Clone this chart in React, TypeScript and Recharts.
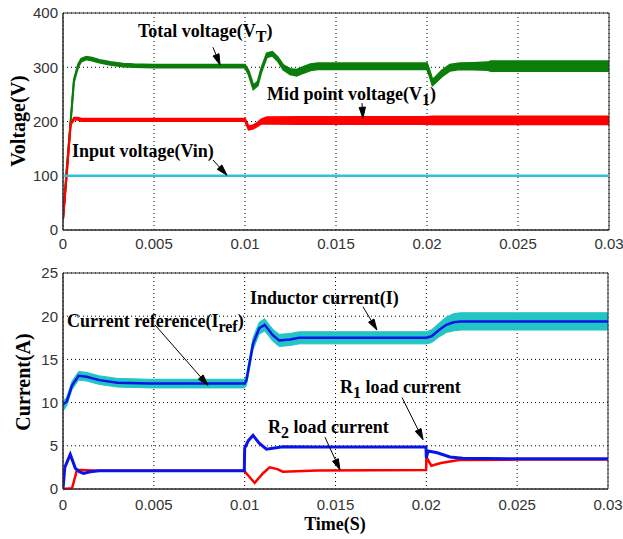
import React from 'react';
import {
  ComposedChart,
  Line,
  Area,
  XAxis,
  YAxis,
  CartesianGrid,
  ReferenceLine,
  ReferenceArea,
} from 'recharts';

// ---------- Shared axis data ----------
const timeTicks = [0, 0.005, 0.01, 0.015, 0.02, 0.025, 0.03];
const timeTickLabels = ['0', '0.005', '0.01', '0.015', '0.02', '0.025', '0.03'];
const voltageTicks = [0, 100, 200, 300, 400];
const currentTicks = [0, 5, 10, 15, 20, 25];

// ---------- Top plot: voltages ----------
// Total voltage V_T (green): centre and half-width of the ripple band
const tVT = [0, 0.0002, 0.00042, 0.0006, 0.00083, 0.001, 0.00128, 0.0016, 0.002, 0.0026, 0.0033, 0.0039, 0.005, 0.007, 0.01, 0.0102, 0.01046, 0.0107, 0.0109, 0.0112, 0.0115, 0.0118, 0.0121, 0.01248, 0.01284, 0.0132, 0.0136, 0.014, 0.015, 0.017, 0.02, 0.02015, 0.0203, 0.0205, 0.0208, 0.02126, 0.0218, 0.0225, 0.02335, 0.0235, 0.025, 0.0275, 0.03];
const vtMid = [20, 110, 200, 275, 303, 313, 317, 315, 311, 307, 304, 303, 302, 302, 302, 290, 263, 270, 295, 322, 325, 315, 300, 292, 290, 295, 300, 302, 302, 302, 302, 288, 272, 278, 288, 299, 302, 302, 302, 302, 302, 302, 302];
const vtHalf = [1, 1, 1, 2, 2.5, 2.5, 2.5, 2.5, 2.5, 2.5, 2.5, 2.5, 2.5, 2.5, 2.5, 3.5, 3.5, 3.5, 3.5, 3.5, 3.5, 3.5, 4, 5, 5.5, 5.5, 5.5, 5.5, 5.5, 5.5, 5.5, 5, 5, 5, 5.5, 5.5, 5.5, 6, 7, 9, 9, 9, 9];

// Mid point voltage V_1 (red)
const tV1 = [0, 0.0002, 0.00042, 0.0006, 0.00083, 0.001, 0.002, 0.005, 0.01, 0.0102, 0.01046, 0.0107, 0.0109, 0.0112, 0.013, 0.015, 0.02, 0.0203, 0.025, 0.03];
const v1Mid = [20, 100, 195, 205, 205, 203, 203, 203, 203, 188, 190, 195, 200, 202, 202, 202, 202, 202, 202, 202];
const v1Half = [0.5, 0.5, 1, 2, 2, 2, 2, 2, 2, 3, 3, 3, 4, 6, 6.5, 6.5, 6.5, 7, 7, 7];

// Input voltage Vin (cyan)
const tVin = [0, 0.03];
const vin = [100, 100];

// ---------- Bottom plot: currents ----------
// Current reference I_ref (blue) and inductor current I (cyan band)
const tI = [0, 0.0002, 0.0005, 0.00086, 0.0013, 0.002, 0.003, 0.0048, 0.007, 0.01, 0.0101, 0.01046, 0.0108, 0.0111, 0.01155, 0.0119, 0.0125, 0.013, 0.015, 0.02, 0.0203, 0.0207, 0.0211, 0.0215, 0.0219, 0.025, 0.03];
const iref = [9.8, 10.1, 12.0, 13.1, 13.0, 12.6, 12.3, 12.2, 12.2, 12.2, 12.6, 16.8, 18.6, 19.0, 17.8, 17.2, 17.3, 17.5, 17.5, 17.5, 17.7, 18.4, 19.0, 19.3, 19.4, 19.4, 19.4];
const indMid = [9.6, 10.1, 12.0, 13.1, 13.0, 12.6, 12.3, 12.2, 12.2, 12.2, 12.6, 16.8, 18.6, 19.0, 17.8, 17.2, 17.3, 17.5, 17.5, 17.5, 17.7, 18.4, 19.0, 19.3, 19.4, 19.4, 19.4];
const indHalf = [0.6, 0.5, 0.5, 0.5, 0.5, 0.5, 0.5, 0.5, 0.5, 0.5, 0.6, 0.7, 0.7, 0.7, 0.7, 0.7, 0.7, 0.7, 0.7, 0.7, 0.75, 0.8, 0.9, 1.0, 1.0, 1.0, 1.0];

// R1 load current (blue)
const tR1 = [0, 0.0001, 0.0004, 0.00068, 0.0009, 0.00113, 0.0015, 0.002, 0.005, 0.00998, 0.01, 0.0102, 0.01046, 0.0108, 0.0112, 0.0121, 0.014, 0.01998, 0.02, 0.0201, 0.0206, 0.0213, 0.022, 0.025, 0.03];
const r1 = [0, 2.5, 4.0, 2.4, 2.0, 1.8, 2.0, 2.1, 2.1, 2.1, 4.7, 5.6, 6.2, 5.3, 4.6, 4.9, 4.85, 4.85, 3.6, 4.4, 4.2, 3.7, 3.55, 3.5, 3.5];

// R2 load current (red)
const tR2 = [0, 0.0005, 0.00077, 0.001, 0.002, 0.005, 0.00998, 0.0101, 0.01055, 0.011, 0.01137, 0.0118, 0.0121, 0.014, 0.01999, 0.02, 0.02028, 0.0208, 0.0218, 0.025, 0.03];
const r2 = [0, 0.1, 2.2, 2.2, 2.1, 2.1, 2.1, 1.8, 0.7, 1.8, 2.5, 2.3, 2.0, 2.15, 2.2, 3.7, 2.7, 3.0, 3.35, 3.4, 3.4];

// ---------- Annotation arrows (data coordinates: [t1, y1, t2, y2]) ----------
const voltageArrows = [
  [0.00824, 337, 0.00863, 304],
  [0.01643, 234, 0.01648, 206],
  [0.00824, 129, 0.00901, 101],
];
const currentArrows = [
  [0.01651, 21.1, 0.01728, 18.4],
  [0.00506, 19.0, 0.00798, 12.0],
  [0.01442, 6.0, 0.01525, 2.2],
  [0.01866, 10.6, 0.01982, 5.7],
];

// ---------- helpers ----------
const toRows = (t: number[], v: number[]) => t.map((x, i) => ({ t: x, v: v[i] }));
const toBand = (t: number[], m: number[], h: number[]) =>
  t.map((x, i) => ({ t: x, r: [m[i] - h[i], m[i] + h[i]] }));

const vtBand = toBand(tVT, vtMid, vtHalf);
const v1Band = toBand(tV1, v1Mid, v1Half);
const vinRows = toRows(tVin, vin);
const indBand = toBand(tI, indMid, indHalf);
const irefRows = toRows(tI, iref);
const r1Rows = toRows(tR1, r1);
const r2Rows = toRows(tR2, r2);

const GREEN = '#0a7d0a';
const RED = '#ff0000';
const VIN_CYAN = '#2fc2d8';
const BAND_CYAN = '#22c4c4';
const BLUE = '#0a14e6';
const FRAME = '#2a2a2a';

const tickFont = { fontFamily: '"Liberation Sans", Arial, sans-serif', fontSize: 15, fill: '#333' };
const serif = '"Liberation Serif", "Times New Roman", serif';

const ArrowShape = (p: any) => {
  const { x1, y1, x2, y2 } = p;
  const dx = x2 - x1;
  const dy = y2 - y1;
  const len = Math.hypot(dx, dy) || 1;
  const ux = dx / len;
  const uy = dy / len;
  const hl = 11;
  const hw = 3.2;
  const bx = x2 - ux * hl;
  const by = y2 - uy * hl;
  const pts = `${x2},${y2} ${bx - uy * hw},${by + ux * hw} ${bx + uy * hw},${by - ux * hw}`;
  return (
    <g>
      <line x1={x1} y1={y1} x2={bx} y2={by} stroke="#000" strokeWidth={1} />
      <polygon points={pts} fill="#000" stroke="#000" strokeWidth={1} />
    </g>
  );
};

const xTickFmt = (v: number) => {
  const i = timeTicks.findIndex((x) => Math.abs(x - v) < 1e-9);
  return i >= 0 ? timeTickLabels[i] : String(v);
};

export default function App() {
  return (
    <div style={{ position: 'absolute', left: 0, top: 0, width: 623, height: 539, background: '#fff', overflow: 'hidden' }}>
      {/* Top: voltages */}
      <div style={{ position: 'absolute', left: 0, top: 0 }}>
        <ComposedChart width={623} height={262} margin={{ top: 13, right: 14, left: 0, bottom: 0 }}>
          <CartesianGrid stroke="#000" strokeDasharray="1 3" />
          <XAxis
            dataKey="t"
            type="number"
            domain={[0, 0.03]}
            ticks={timeTicks}
            tickFormatter={xTickFmt}
            allowDataOverflow
            height={32}
            tickLine={false}
            tickSize={6}
            tickMargin={2}
            axisLine={{ stroke: FRAME }}
            tick={tickFont}
            interval={0}
          />
          <YAxis
            type="number"
            domain={[0, 400]}
            ticks={voltageTicks}
            width={63}
            tickLine={false}
            tickSize={3}
            tickMargin={2}
            axisLine={{ stroke: FRAME }}
            tick={tickFont}
            interval={0}
          />
          <Area data={vtBand} dataKey="r" type="linear" stroke={GREEN} strokeWidth={2} fill={GREEN} fillOpacity={1} isAnimationActive={false} dot={false} activeDot={false} />
          <Area data={v1Band} dataKey="r" type="linear" stroke={RED} strokeWidth={2} fill={RED} fillOpacity={1} isAnimationActive={false} dot={false} activeDot={false} />
          <Line data={vinRows} dataKey="v" type="linear" stroke={VIN_CYAN} strokeWidth={2.5} dot={false} activeDot={false} isAnimationActive={false} />
          {voltageArrows.map((a, i) => (
            <ReferenceLine key={i} segment={[{ x: a[0], y: a[1] }, { x: a[2], y: a[3] }]} shape={ArrowShape} ifOverflow="visible" />
          ))}
          <ReferenceArea x1={0} x2={0.03} y1={0} y2={400} fill="none" fillOpacity={0} stroke={FRAME} strokeWidth={1} ifOverflow="visible" />
        </ComposedChart>
      </div>

      {/* Bottom: currents */}
      <div style={{ position: 'absolute', left: 0, top: 262 }}>
        <ComposedChart width={623} height={277} margin={{ top: 11, right: 15, left: 0, bottom: 0 }}>
          <CartesianGrid stroke="#000" strokeDasharray="1 3" />
          <XAxis
            dataKey="t"
            type="number"
            domain={[0, 0.03]}
            ticks={timeTicks}
            tickFormatter={xTickFmt}
            allowDataOverflow
            height={50}
            tickLine={false}
            tickSize={6}
            tickMargin={4}
            axisLine={{ stroke: FRAME }}
            tick={tickFont}
            interval={0}
          />
          <YAxis
            type="number"
            domain={[0, 25]}
            ticks={currentTicks}
            width={63}
            tickLine={false}
            tickSize={3}
            tickMargin={2}
            axisLine={{ stroke: FRAME }}
            tick={tickFont}
            interval={0}
          />
          <Area data={indBand} dataKey="r" type="linear" stroke={BAND_CYAN} strokeWidth={1} fill={BAND_CYAN} fillOpacity={1} isAnimationActive={false} dot={false} activeDot={false} />
          <Line data={irefRows} dataKey="v" type="linear" stroke={BLUE} strokeWidth={2.5} dot={false} activeDot={false} isAnimationActive={false} />
          <Line data={r2Rows} dataKey="v" type="linear" stroke={RED} strokeWidth={2.5} dot={false} activeDot={false} isAnimationActive={false} />
          <Line data={r1Rows} dataKey="v" type="linear" stroke={BLUE} strokeWidth={3} dot={false} activeDot={false} isAnimationActive={false} />
          {currentArrows.map((a, i) => (
            <ReferenceLine key={i} segment={[{ x: a[0], y: a[1] }, { x: a[2], y: a[3] }]} shape={ArrowShape} ifOverflow="visible" />
          ))}
          <ReferenceArea x1={0} x2={0.03} y1={0} y2={25} fill="none" fillOpacity={0} stroke={FRAME} strokeWidth={1} ifOverflow="visible" />
        </ComposedChart>
      </div>

      {/* Text labels */}
      <svg width={623} height={539} style={{ position: 'absolute', left: 0, top: 0, pointerEvents: 'none' }}>
        <g fontFamily={serif} fontWeight="bold" fontSize={18} fill="#000">
          <text x={138} y={37}>Total voltage(V<tspan dy={5} fontSize={16}>T</tspan><tspan dy={-5}>)</tspan></text>
          <text x={267} y={100}>Mid point voltage(V<tspan dy={5} fontSize={16}>1</tspan><tspan dy={-5}>)</tspan></text>
          <text x={72} y={157}>Input voltage(Vin)</text>
          <text x={250} y={304}>Inductor current(I)</text>
          <text x={67} y={327}>Current reference(I<tspan dy={5} fontSize={16}>ref</tspan><tspan dy={-5}>)</tspan></text>
          <text x={268} y={433}>R<tspan dy={5} fontSize={16}>2</tspan><tspan dy={-5}> load current</tspan></text>
          <text x={340} y={393}>R<tspan dy={5} fontSize={16}>1</tspan><tspan dy={-5}> load current</tspan></text>
          <text x={18} y={121} fontSize={20} textAnchor="middle" dominantBaseline="central" transform="rotate(-90 18 121)">Voltage(V)</text>
          <text x={23} y={382} fontSize={20} textAnchor="middle" dominantBaseline="central" transform="rotate(-90 23 382)">Current(A)</text>
          <text x={335} y={530} textAnchor="middle">Time(S)</text>
        </g>
      </svg>
    </div>
  );
}
